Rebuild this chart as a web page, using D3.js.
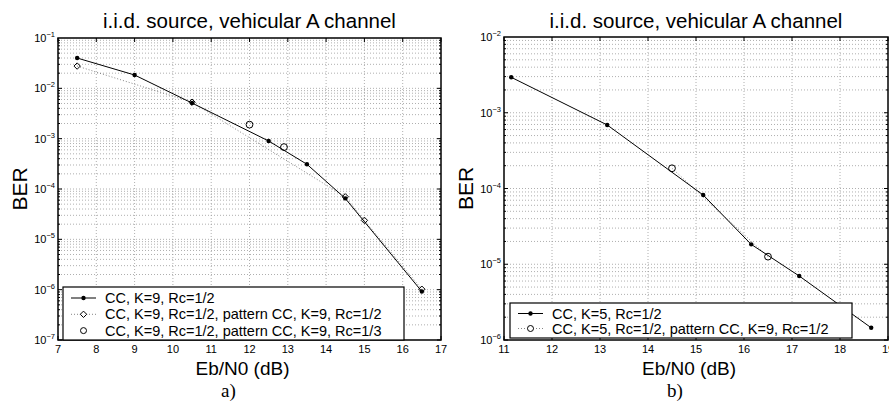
<!DOCTYPE html>
<html lang="en">
<head>
<meta charset="UTF-8">
<title>BER vs Eb/N0</title>
<script src="https://d3js.org/d3.v7.min.js"></script>
<style>
  * { margin: 0; padding: 0; }
  body { background: #fff; width: 889px; height: 403px; overflow: hidden; }
  svg { display: block; font-family: "Liberation Sans", Arial, sans-serif; }
  .grid line { stroke: #9a9a9a; stroke-width: 0.8; stroke-dasharray: 1,2; }
</style>
</head>
<body>
<svg id="chart" width="889" height="403"></svg>
<script>
// panel a) - K=9
const aXTicks = [7, 8, 9, 10, 11, 12, 13, 14, 15, 16, 17];
const aYExp = [-1, -2, -3, -4, -5, -6, -7];
const aSolidX = [7.5, 9, 10.5, 12.5, 13.5, 14.5, 16.5];
const aSolidY = [0.040, 0.0184, 0.0051, 0.00090, 0.00031, 0.000065, 0.00000092];
const aDiamX = [7.5, 10.5, 14.5, 15, 16.5];
const aDiamY = [0.0277, 0.0053, 0.000070, 0.0000238, 0.00000102];
const aCircX = [12, 12.9];
const aCircY = [0.0019, 0.00068];
const aLegend = [
  'CC, K=9, Rc=1/2',
  'CC, K=9, Rc=1/2, pattern CC, K=9, Rc=1/2',
  'CC, K=9, Rc=1/2, pattern CC, K=9, Rc=1/3'
];

// panel b) - K=5
const bXTicks = [11, 12, 13, 14, 15, 16, 17, 18, 19];
const bYExp = [-2, -3, -4, -5, -6];
const bSolidX = [11.15, 13.15, 15.15, 16.15, 17.15, 18.65];
const bSolidY = [0.00294, 0.00069, 0.000082, 0.0000183, 0.0000070, 0.00000145];
const bCircX = [14.5, 16.5];
const bCircY = [0.000185, 0.0000126];
const bLegend = [
  'CC, K=5, Rc=1/2',
  'CC, K=5, Rc=1/2, pattern CC, K=9, Rc=1/2'
];

const TITLE = 'i.i.d. source, vehicular A channel';
const svg = d3.select('#chart');

function zip(xs, ys) { return xs.map((x, i) => ({ x: x, y: ys[i] })); }

function drawPanel(p) {
  const x = d3.scaleLinear().domain(p.xDomain).range([p.left, p.right]);
  const y = d3.scaleLog().domain(p.yDomain).range([p.bottom, p.top]);
  const g = svg.append('g');

  // grid: vertical at integer ticks, horizontal at all log ticks
  const grid = g.append('g').attr('class', 'grid');
  const minor = [];
  for (let e = Math.log10(p.yDomain[0]); e < Math.log10(p.yDomain[1]); e++) {
    for (let m = 1; m < 10; m++) minor.push(m * Math.pow(10, e));
  }
  grid.selectAll('.h').data(minor.filter(v => v > p.yDomain[0])).enter().append('line')
    .attr('x1', p.left).attr('x2', p.right)
    .attr('y1', d => y(d)).attr('y2', d => y(d));
  grid.selectAll('.v').data(p.xTicks.slice(1, -1)).enter().append('line')
    .attr('x1', d => x(d)).attr('x2', d => x(d))
    .attr('y1', p.top).attr('y2', p.bottom);

  // ticks inside the box
  const tk = g.append('g').attr('stroke', '#000').attr('stroke-width', 1);
  p.xTicks.forEach(t => {
    tk.append('line').attr('x1', x(t)).attr('x2', x(t)).attr('y1', p.bottom).attr('y2', p.bottom - 4);
    tk.append('line').attr('x1', x(t)).attr('x2', x(t)).attr('y1', p.top).attr('y2', p.top + 4);
  });
  minor.forEach(v => {
    const len = Math.abs(Math.log10(v) - Math.round(Math.log10(v))) < 1e-9 ? 4 : 2;
    tk.append('line').attr('x1', p.left).attr('x2', p.left + len).attr('y1', y(v)).attr('y2', y(v));
    tk.append('line').attr('x1', p.right).attr('x2', p.right - len).attr('y1', y(v)).attr('y2', y(v));
  });

  // data lines
  const line = d3.line().x(d => x(d.x)).y(d => y(d.y));
  if (p.dotted) {
    g.append('path').datum(p.dotted).attr('d', line)
      .attr('fill', 'none').attr('stroke', '#777').attr('stroke-width', 0.9).attr('stroke-dasharray', '1,2');
  }
  g.append('path').datum(p.solid).attr('d', line)
    .attr('fill', 'none').attr('stroke', '#000').attr('stroke-width', 1);

  g.selectAll('.dot').data(p.solid).enter().append('circle')
    .attr('cx', d => x(d.x)).attr('cy', d => y(d.y)).attr('r', 2.2).attr('fill', '#000');
  if (p.diamonds) {
    g.selectAll('.dia').data(p.diamonds).enter().append('path')
      .attr('d', d3.symbol().type(d3.symbolDiamond2).size(26))
      .attr('transform', d => `translate(${x(d.x)},${y(d.y)})`)
      .attr('fill', 'none').attr('stroke', '#000').attr('stroke-width', 1);
  }
  g.selectAll('.circ').data(p.circles).enter().append('circle')
    .attr('cx', d => x(d.x)).attr('cy', d => y(d.y)).attr('r', 3.4)
    .attr('fill', 'none').attr('stroke', '#000').attr('stroke-width', 1);

  // box
  g.append('rect').attr('x', p.left).attr('y', p.top)
    .attr('width', p.right - p.left).attr('height', p.bottom - p.top)
    .attr('fill', 'none').attr('stroke', '#000').attr('stroke-width', 1.5);

  // tick labels
  p.xTicks.forEach(t => {
    g.append('text').attr('x', x(t)).attr('y', p.bottom + 12.5)
      .attr('text-anchor', 'middle').attr('font-size', 11).text(t);
  });
  p.yExp.forEach(e => {
    const t = g.append('text').attr('x', p.left - 3).attr('y', y(Math.pow(10, e)) + 4)
      .attr('text-anchor', 'end').attr('font-size', 11);
    t.append('tspan').text('10');
    t.append('tspan').attr('dy', -5).attr('font-size', 7.5).text('\u2212' + Math.abs(e));
  });

  // titles
  const cx = (p.left + p.right) / 2;
  g.append('text').attr('x', cx).attr('y', 28).attr('text-anchor', 'middle')
    .attr('font-size', 20.5).text(TITLE);
  g.append('text').attr('x', cx - 7).attr('y', 375).attr('text-anchor', 'middle')
    .attr('font-size', 19).text('Eb/N0 (dB)');
  g.append('text').attr('x', cx - 21).attr('y', 397).attr('text-anchor', 'middle')
    .attr('font-family', '"Liberation Serif", "Times New Roman", serif')
    .attr('font-size', 19).text(p.tag);
  g.append('text').attr('transform', `translate(${p.left - 31},${(p.top + p.bottom) / 2}) rotate(-90)`)
    .attr('text-anchor', 'middle').attr('font-size', 21).text('BER');

  // legend
  const L = p.legend;
  const lg = g.append('g');
  lg.append('rect').attr('x', L.x0).attr('y', L.y0).attr('width', L.x1 - L.x0).attr('height', L.y1 - L.y0)
    .attr('fill', '#fff').attr('stroke', '#000').attr('stroke-width', 1.2);
  p.legendItems.forEach((label, i) => {
    const yy = L.y0 + L.first + i * L.step;
    const sx0 = L.x0 + 8, sx1 = L.x0 + 33, sm = (sx0 + sx1) / 2;
    if (i === 0) {
      lg.append('line').attr('x1', sx0).attr('x2', sx1).attr('y1', yy).attr('y2', yy)
        .attr('stroke', '#000').attr('stroke-width', 1);
      lg.append('circle').attr('cx', sm).attr('cy', yy).attr('r', 2.2).attr('fill', '#000');
    } else if (label.kind !== 'circleOnly') {
      lg.append('line').attr('x1', sx0).attr('x2', sx1).attr('y1', yy).attr('y2', yy)
        .attr('stroke', '#777').attr('stroke-width', 0.9).attr('stroke-dasharray', '1,2');
    }
    if (label.marker === 'diamond') {
      lg.append('path').attr('d', d3.symbol().type(d3.symbolDiamond2).size(26))
        .attr('transform', `translate(${sm},${yy})`)
        .attr('fill', '#fff').attr('stroke', '#000').attr('stroke-width', 1);
    } else if (label.marker === 'circle') {
      lg.append('circle').attr('cx', sm).attr('cy', yy).attr('r', 3)
        .attr('fill', '#fff').attr('stroke', '#000').attr('stroke-width', 1);
    }
    lg.append('text').attr('x', L.x0 + 42).attr('y', yy + 5)
      .attr('font-size', 14.5).text(label.text);
  });
}

drawPanel({
  left: 58, right: 441, top: 38, bottom: 340,
  xDomain: [7, 17], yDomain: [1e-7, 1e-1],
  xTicks: aXTicks, yExp: aYExp,
  solid: zip(aSolidX, aSolidY),
  dotted: zip(aDiamX, aDiamY),
  diamonds: zip(aDiamX, aDiamY),
  circles: zip(aCircX, aCircY),
  tag: 'a)',
  legend: { x0: 63, x1: 404, y0: 287, y1: 340, first: 11, step: 16.3 },
  legendItems: [
    { text: aLegend[0] },
    { text: aLegend[1], marker: 'diamond' },
    { text: aLegend[2], marker: 'circle', kind: 'circleOnly' }
  ]
});

drawPanel({
  left: 504, right: 888, top: 37, bottom: 340,
  xDomain: [11, 19], yDomain: [1e-6, 1e-2],
  xTicks: bXTicks, yExp: bYExp,
  solid: zip(bSolidX, bSolidY),
  dotted: zip(bCircX, bCircY),
  circles: zip(bCircX, bCircY),
  tag: 'b)',
  legend: { x0: 510, x1: 852, y0: 303, y1: 338, first: 10.5, step: 15 },
  legendItems: [
    { text: bLegend[0] },
    { text: bLegend[1], marker: 'circle' }
  ]
});
</script>
</body>
</html>
